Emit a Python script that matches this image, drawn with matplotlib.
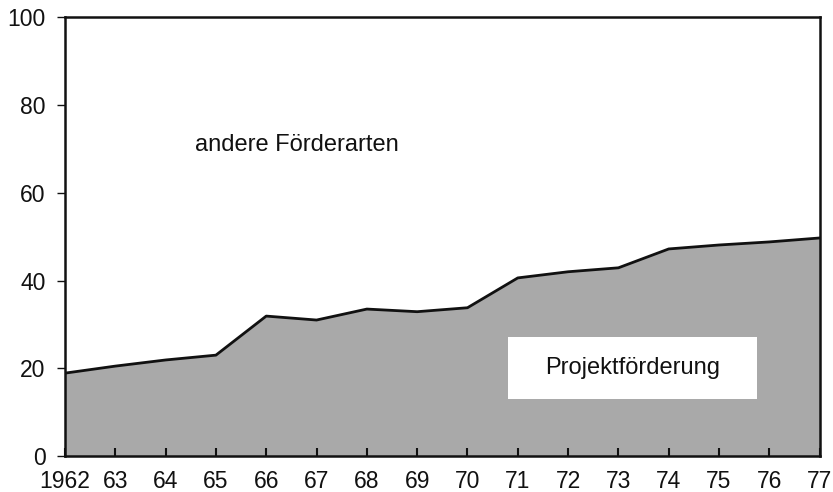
import matplotlib.pyplot as plt
from matplotlib.patches import Rectangle

years = [1962, 1963, 1964, 1965, 1966, 1967, 1968, 1969,
         1970, 1971, 1972, 1973, 1974, 1975, 1976, 1977]
projekt = [18.9, 20.5, 21.9, 23.0, 31.9, 31.0, 33.5, 32.9,
           33.8, 40.6, 42.0, 42.9, 47.2, 48.1, 48.8, 49.7]
year_labels = ['1962', '63', '64', '65', '66', '67', '68', '69',
               '70', '71', '72', '73', '74', '75', '76', '77']
y_ticks = [0, 20, 40, 60, 80, 100]

plt.rcParams['font.family'] = ['Liberation Sans', 'DejaVu Sans']

fig = plt.figure(figsize=(8.33, 4.92), dpi=100)
ax = fig.add_axes([0.078, 0.073, 0.906, 0.892])

ax.fill_between(years, 0, projekt, color='#a9a9a9', linewidth=0)
ax.plot(years, projekt, color='#111111', linewidth=2)

# white label box inside the grey area
ax.add_patch(Rectangle((1970.8, 13.0), 4.95, 14.1, facecolor='white',
                       edgecolor='none', zorder=3))
ax.text(1973.28, 20.0, 'Projektförderung', ha='center', va='center',
        fontsize=17, color='#111111', zorder=4)
ax.text(1966.6, 70.8, 'andere Förderarten', ha='center', va='center',
        fontsize=17, color='#111111')

ax.set_xlim(1962, 1977)
ax.set_ylim(0, 100)
ax.set_xticks(years)
ax.set_xticklabels(year_labels)
ax.set_yticks(y_ticks)

ax.tick_params(axis='x', direction='in', length=6, width=1.5, pad=10,
               labelsize=16.5, colors='#111111')
ax.tick_params(axis='y', direction='out', length=6, width=1.0, pad=8,
               labelsize=16.5, colors='#111111')
for side in ['left', 'right', 'top', 'bottom']:
    ax.spines[side].set_linewidth(1.8)
    ax.spines[side].set_color('#111111')

fig.savefig('out.png', dpi=100)
